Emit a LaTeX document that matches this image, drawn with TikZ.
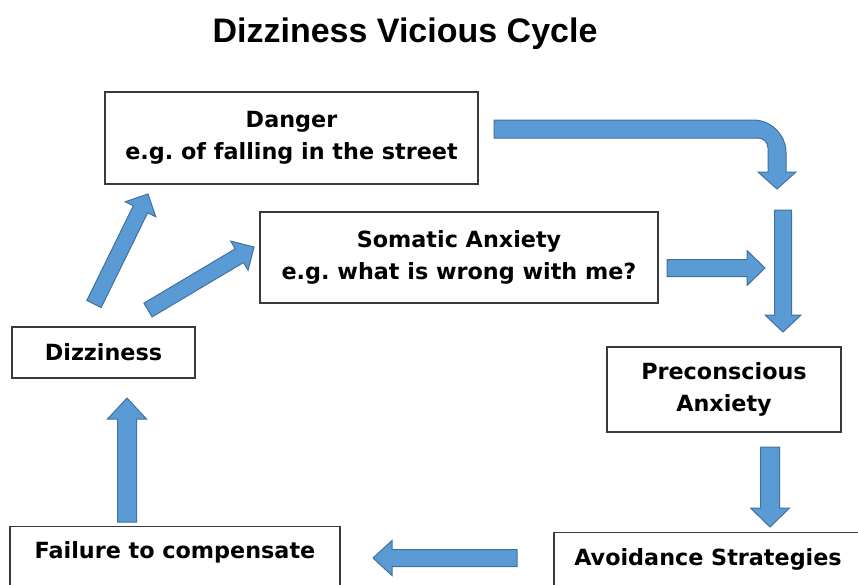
\documentclass[tikz,border=0pt]{standalone}
\usepackage{fontspec}
\newfontfamily\boxfam{DejaVu Sans}
\newfontfamily\titlefam{Liberation Sans}
\usetikzlibrary{calc}
\frenchspacing
\definecolor{arrowfill}{HTML}{5B9BD5}
\definecolor{arrowline}{HTML}{41719C}
\definecolor{boxline}{HTML}{3A3A3A}
\newcommand{\bashaft}{9pt}
\newcommand{\bahead}{18.5pt}
\newcommand{\balen}{18pt}
\tikzset{
  ba shaft/.code={\renewcommand{\bashaft}{#1}},
  ba head/.code={\renewcommand{\bahead}{#1}},
  ba len/.code={\renewcommand{\balen}{#1}},
  blockarrow/.style={fill=arrowfill, draw=arrowline, line width=1pt, line join=miter,
    to path={let \p1=(\tikztostart), \p2=(\tikztotarget),
      \n1={atan2(\y2-\y1,\x2-\x1)}, \n2={veclen(\x2-\x1,\y2-\y1)} in
      ([shift={(\p1)},rotate=\n1] 0pt,-\bashaft)
      -- ([shift={(\p1)},rotate=\n1] \n2-\balen,-\bashaft)
      -- ([shift={(\p1)},rotate=\n1] \n2-\balen,-\bahead)
      -- ([shift={(\p1)},rotate=\n1] \n2-0pt,0pt)
      -- ([shift={(\p1)},rotate=\n1] \n2-\balen,\bahead)
      -- ([shift={(\p1)},rotate=\n1] \n2-\balen,\bashaft)
      -- ([shift={(\p1)},rotate=\n1] 0pt,\bashaft) -- cycle}},
  box/.style={draw=boxline, line width=1.3pt, fill=white, inner sep=0pt,
    align=center, font=\boxfam\bfseries\fontsize{22.3}{32}\selectfont},
  titletext/.style={font=\titlefam\bfseries\fontsize{34}{40}\selectfont, inner sep=0pt}
}
\begin{document}
\begin{tikzpicture}[x=1pt,y=-1pt]
\clip (0,0) rectangle (858,584);
\fill[white] (0,0) rectangle (858,584);

\node[titletext, anchor=base] (title) at (405,42) {Dizziness Vicious Cycle};

\node[box, minimum width=373pt, minimum height=92pt] (danger) at (291.5,138)
  {Danger\\e.g. of falling in the street};
\node[box, minimum width=398pt, minimum height=91pt] (somatic) at (459,257.5)
  {Somatic Anxiety\\e.g. what is wrong with me?};
\node[box, minimum width=183pt, minimum height=51pt] (dizz) at (103.5,352.5)
  {Dizziness};
\node[box, minimum width=234pt, minimum height=85pt] (precon) at (724,389.5)
  {Preconscious\\Anxiety};
\node[box, anchor=north, minimum width=330pt, text height=17pt, text depth=40pt,
  inner ysep=15pt] (failure) at (175,526) {Failure to compensate};
\node[box, anchor=north, minimum width=308pt, text height=17pt, text depth=40pt,
  inner ysep=16pt] (avoid) at (708,532) {Avoidance Strategies};

% arrow end points
\coordinate (v1s) at (783,210);  \coordinate (v1e) at (783,332);
\coordinate (h1s) at (667,268);  \coordinate (h1e) at (765,268);
\coordinate (d1s) at (770,447);  \coordinate (d1e) at (770,527);
\coordinate (l1s) at (517,558);  \coordinate (l1e) at (373,558);
\coordinate (u1s) at (127,522);  \coordinate (u1e) at (127,398);
\coordinate (g1s) at (94,304);   \coordinate (g1e) at (148,194);
\coordinate (g2s) at (148,310);  \coordinate (g2e) at (254,247);

\draw[blockarrow, ba shaft=8.5pt, ba head=18pt, ba len=17pt] (v1s) to (v1e);
\draw[blockarrow, ba shaft=8.5pt, ba head=17.5pt, ba len=18pt] (h1s) to (h1e);
\draw[blockarrow, ba shaft=9.5pt, ba head=19.5pt, ba len=19pt] (d1s) to (d1e);
\draw[blockarrow, ba shaft=8.5pt, ba head=17.5pt, ba len=19pt] (l1s) to (l1e);
\draw[blockarrow, ba shaft=9.5pt, ba head=19.5pt, ba len=21pt] (u1s) to (u1e);
\draw[blockarrow, ba shaft=8pt, ba head=17pt, ba len=17pt] (g1s) to (g1e);
\draw[blockarrow, ba shaft=8pt, ba head=17pt, ba len=17pt] (g2s) to (g2e);

% curved arrow from danger towards the right column
\coordinate (cs) at (494,129);
\coordinate (ce) at (777,189);
\draw[fill=arrowfill, draw=arrowline, line width=1pt, line join=miter]
  ($(cs)+(0,-9)$) -- (753,120) .. controls (771.2,120) and (786,134.8) .. (786,153)
  -- (786,172) -- (796,172) -- (ce) -- (758,172) -- (768,172)
  -- (768,148) .. controls (768,142.5) and (763.5,138) .. (758,138)
  -- ($(cs)+(0,9)$) -- cycle;
\end{tikzpicture}
\end{document}
